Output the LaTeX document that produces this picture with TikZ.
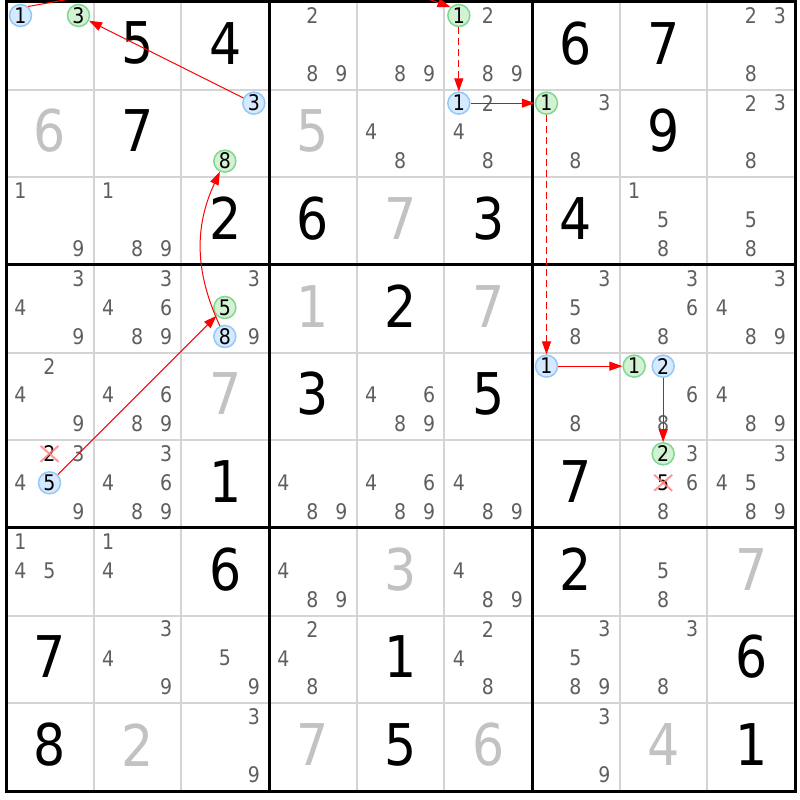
\documentclass[tikz,border=0pt]{standalone}
\usepackage{fontspec}
\setmainfont{DejaVu Sans}[FakeStretch=0.88]
\usetikzlibrary{arrows.meta}
\definecolor{candgrey}{HTML}{5F5F5F}
\definecolor{solgrey}{HTML}{C2C2C2}
\definecolor{thingrid}{HTML}{D4D4D4}
\definecolor{bluefill}{HTML}{D5E9FF}
\definecolor{bluedraw}{HTML}{94C8F8}
\definecolor{greenfill}{HTML}{D3F2D3}
\definecolor{greendraw}{HTML}{80D890}
\definecolor{arrred}{HTML}{FF0000}
\definecolor{crossred}{HTML}{FF8080}
\newcommand\cellsz{87.667}
\newcommand\cd[4][cand]{\node[#1] (n#2#3#4) at ({6+#3*\cellsz+mod(#4-1,3)*29+14.5},{798-#2*\cellsz-int((#4-1)/3)*29-13.5}) {#4};}
\newcommand\cands[3]{\foreach \d in {#3}{\cd{#1}{#2}{\d}}}
\newcommand\gvn[4][given]{\node[#1] (g#2#3) at ({6+(#3+0.5)*\cellsz},{798-(#2+0.5)*\cellsz+2.5}) {#4};}
\tikzset{
  cand/.style={text=candgrey, font=\fontsize{21.5}{22}\selectfont, inner sep=0pt},
  bluec/.style={cand, text=black, circle, draw=bluedraw, fill=bluefill, line width=1.5pt, minimum size=22pt},
  greenc/.style={cand, text=black, circle, draw=greendraw, fill=greenfill, line width=1.5pt, minimum size=22pt},
  crossd/.style={cand, text=black},
  given/.style={font=\fontsize{57.5}{58}\selectfont, inner sep=0pt, text=black},
  solved/.style={given, text=solgrey},
  thinline/.style={draw=thingrid, line width=1.8pt},
  thickline/.style={draw=black, line width=3pt},
  arr/.style={draw=arrred, line width=1pt, -{Triangle[length=13pt,width=9pt]}},
  darr/.style={arr, dash pattern=on 7pt off 4pt},
  xline/.style={draw=crossred, line width=2pt, opacity=0.8}
}
\begin{document}
\begin{tikzpicture}[x=1pt,y=1pt]
\useasboundingbox (0,0) rectangle (800,800);
\clip (0,0) rectangle (800,800);
\fill[white] (0,0) rectangle (800,800);
% grid
\foreach \i in {1,2,4,5,7,8}{
  \draw[thinline] ({6+\i*\cellsz},9) -- ({6+\i*\cellsz},798);
  \draw[thinline] (6,{798-\i*\cellsz}) -- (795,{798-\i*\cellsz});
}
\foreach \i in {0,3,6,9}{
  \draw[thickline] ({6+\i*\cellsz},7.5) -- ({6+\i*\cellsz},799.5);
  \draw[thickline] (4.5,{798-\i*\cellsz}) -- (796.5,{798-\i*\cellsz});
}
% givens (black) and solved (grey)
\gvn{0}{1}{5}\gvn{0}{2}{4}\gvn{0}{6}{6}\gvn{0}{7}{7}
\gvn{1}{1}{7}\gvn{1}{7}{9}
\gvn{2}{2}{2}\gvn{2}{3}{6}\gvn{2}{5}{3}\gvn{2}{6}{4}
\gvn{3}{4}{2}
\gvn{4}{3}{3}\gvn{4}{5}{5}
\gvn{5}{2}{1}\gvn{5}{6}{7}
\gvn{6}{2}{6}\gvn{6}{6}{2}
\gvn{7}{0}{7}\gvn{7}{4}{1}\gvn{7}{8}{6}
\gvn{8}{0}{8}\gvn{8}{4}{5}\gvn{8}{8}{1}
\gvn[solved]{1}{0}{6}\gvn[solved]{1}{3}{5}
\gvn[solved]{2}{4}{7}
\gvn[solved]{3}{3}{1}\gvn[solved]{3}{5}{7}
\gvn[solved]{4}{2}{7}
\gvn[solved]{6}{4}{3}\gvn[solved]{6}{8}{7}
\gvn[solved]{8}{1}{2}\gvn[solved]{8}{3}{7}\gvn[solved]{8}{5}{6}\gvn[solved]{8}{7}{4}
% candidates
% row 0
\cd[bluec]{0}{0}{1}\cd[greenc]{0}{0}{3}
\cands{0}{3}{2,8,9}
\cands{0}{4}{8,9}
\cd[greenc]{0}{5}{1}\cands{0}{5}{2,8,9}
\cands{0}{8}{2,3,8}
% row 1
\cd[bluec]{1}{2}{3}\cd[greenc]{1}{2}{8}
\cands{1}{4}{4,8}
\cd[bluec]{1}{5}{1}\cands{1}{5}{2,4,8}
\cd[greenc]{1}{6}{1}\cands{1}{6}{3,8}
\cands{1}{8}{2,3,8}
% row 2
\cands{2}{0}{1,9}
\cands{2}{1}{1,8,9}
\cands{2}{7}{1,5,8}
\cands{2}{8}{5,8}
% row 3
\cands{3}{0}{3,4,9}
\cands{3}{1}{3,4,6,8,9}
\cands{3}{2}{3,9}\cd[greenc]{3}{2}{5}\cd[bluec]{3}{2}{8}
\cands{3}{6}{3,5,8}
\cands{3}{7}{3,6,8}
\cands{3}{8}{3,4,8,9}
% row 4
\cands{4}{0}{2,4,9}
\cands{4}{1}{4,6,8,9}
\cands{4}{4}{4,6,8,9}
\cd[bluec]{4}{6}{1}\cands{4}{6}{8}
\cd[greenc]{4}{7}{1}\cd[bluec]{4}{7}{2}\cands{4}{7}{6,8}
\cands{4}{8}{4,8,9}
% row 5
\cd[crossd]{5}{0}{2}\cands{5}{0}{3,4,9}\cd[bluec]{5}{0}{5}
\cands{5}{1}{3,4,6,8,9}
\cands{5}{3}{4,8,9}
\cands{5}{4}{4,6,8,9}
\cands{5}{5}{4,8,9}
\cd[greenc]{5}{7}{2}\cd[crossd]{5}{7}{5}\cands{5}{7}{3,6,8}
\cands{5}{8}{3,4,5,8,9}
% row 6
\cands{6}{0}{1,4,5}
\cands{6}{1}{1,4}
\cands{6}{3}{4,8,9}
\cands{6}{5}{4,8,9}
\cands{6}{7}{5,8}
% row 7
\cands{7}{1}{3,4,9}
\cands{7}{2}{5,9}
\cands{7}{3}{2,4,8}
\cands{7}{5}{2,4,8}
\cands{7}{6}{3,5,8,9}
\cands{7}{7}{3,8}
% row 8
\cands{8}{2}{3,9}
\cands{8}{6}{3,9}
% eliminations
\draw[xline] (n502.center) +(-9,-8) -- +(9,8);
\draw[xline] (n502.center) +(-9,8) -- +(9,-8);
\draw[xline] (n575.center) +(-9,-8) -- +(9,8);
\draw[xline] (n575.center) +(-9,8) -- +(9,-8);
% chain
\draw[arr] (n505) -- (n325);
\draw[arr] (n328) to[bend left=25] (n128);
\draw[arr] (n123) -- (n003);
\draw[arr] (n001.50) to[out=10,in=160] (n051.135);
\draw[darr] (n051) -- (n151);
\draw[arr] (n151) -- (n161);
\draw[darr] (n161) -- (n461);
\draw[arr] (n461) -- (n471);
\draw[arr] (n472) -- (n572);
\end{tikzpicture}
\end{document}
